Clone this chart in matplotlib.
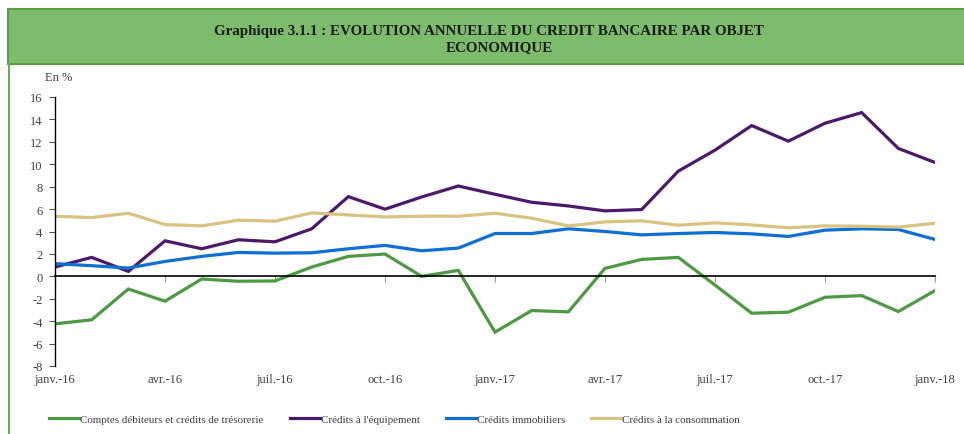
import matplotlib.pyplot as plt
from matplotlib.patches import Rectangle
from matplotlib.lines import Line2D

# monthly points, janv.-16 .. janv.-18
months = list(range(25))
tick_pos = [0, 3, 6, 9, 12, 15, 18, 21, 24]
tick_labels = ['janv.-16', 'avr.-16', 'juil.-16', 'oct.-16', 'janv.-17',
               'avr.-17', 'juil.-17', 'oct.-17', 'janv.-18']

comptes_debiteurs = [-4.24, -3.88, -1.13, -2.22, -0.24, -0.44, -0.41, 0.83, 1.78,
                     1.99, 0.0, 0.53, -4.98, -3.05, -3.17, 0.71, 1.51, 1.69,
                     -0.78, -3.29, -3.20, -1.87, -1.72, -3.14, -1.27]
credits_equipement = [0.83, 1.69, 0.44, 3.17, 2.46, 3.26, 3.08, 4.24, 7.11,
                      5.99, 7.08, 8.06, 7.32, 6.61, 6.28, 5.84, 5.96, 9.39,
                      11.26, 13.45, 12.06, 13.66, 14.61, 11.41, 10.16]
credits_immobiliers = [1.13, 0.95, 0.74, 1.33, 1.78, 2.13, 2.07, 2.10, 2.46,
                       2.76, 2.28, 2.52, 3.82, 3.82, 4.24, 4.00, 3.70, 3.82,
                       3.91, 3.79, 3.56, 4.12, 4.24, 4.18, 3.29]
credits_consommation = [5.36, 5.24, 5.63, 4.62, 4.50, 5.01, 4.92, 5.66, 5.48,
                        5.30, 5.36, 5.36, 5.63, 5.19, 4.50, 4.86, 4.95, 4.56,
                        4.77, 4.59, 4.33, 4.50, 4.47, 4.39, 4.74]

series = [
    ('Comptes débiteurs et crédits de trésorerie', comptes_debiteurs, '#4e9a44'),
    ("Crédits à l'équipement", credits_equipement, '#4a1b6a'),
    ('Crédits immobiliers', credits_immobiliers, '#0e6fd6'),
    ('Crédits à la consommation', credits_consommation, '#d8c380'),
]

plt.rcParams['font.family'] = ['Liberation Serif', 'DejaVu Serif']
plt.rcParams['axes.unicode_minus'] = False
W, H = 964, 435
fig = plt.figure(figsize=(W / 100, H / 100), dpi=100)

# green header band (runs off the right edge) + left frame line
fig.patches.append(Rectangle((8 / W, 1 - 65 / H), 1.1, 55 / H,
                             transform=fig.transFigure, facecolor='#7dbb6d',
                             edgecolor='#5a9e48', lw=1.5))
fig.lines.append(Line2D([8.5 / W, 8.5 / W], [0, 1 - 65 / H],
                        transform=fig.transFigure, color='#6aa85a', lw=1.5))
fig.text(489 / W, 1 - 31 / H,
         'Graphique 3.1.1 : EVOLUTION ANNUELLE DU CREDIT BANCAIRE PAR OBJET',
         ha='center', va='center', fontsize=10.8, fontweight='bold', color='#1a1a1a')
fig.text(499 / W, 1 - 48 / H, 'ECONOMIQUE',
         ha='center', va='center', fontsize=10.8, fontweight='bold', color='#1a1a1a')

ax = fig.add_axes([55 / W, 1 - 367 / H, 880 / W, 269 / H])
for label, vals, col in series:
    ax.plot(months, vals, color=col, lw=2.3, label=label, solid_joinstyle='miter')

ax.set_xlim(0, 24)
ax.set_ylim(-8, 16)
ax.spines['top'].set_visible(False)
ax.spines['right'].set_visible(False)
ax.spines['bottom'].set_position(('data', 0))
ax.spines['bottom'].set_linewidth(1.2)
ax.spines['left'].set_linewidth(1.0)

ax.set_xticks(tick_pos)
ax.set_xticklabels([])
ax.tick_params(axis='x', direction='out', length=4, color='#999999')
ax.set_yticks(range(-8, 17, 2))
ax.tick_params(axis='y', direction='out', length=4, color='#555555',
               labelsize=9, labelcolor='#404040', pad=5)

sec = ax.secondary_xaxis(0.0)
sec.set_xticks(tick_pos)
sec.set_xticklabels(tick_labels)
sec.tick_params(length=0, labelsize=9, labelcolor='#404040', pad=5)
sec.spines['bottom'].set_visible(False)

fig.text(45 / W, 1 - 78 / H, 'En %', ha='left', va='center', fontsize=9, color='#404040')

fig.legend(loc='center left', bbox_to_anchor=(44 / W, 1 - 420 / H), ncol=4,
           frameon=False, fontsize=7.9, handlelength=2.7, handletextpad=0.1,
           columnspacing=2.4, borderpad=0, labelcolor='#404040')

fig.savefig('out.png', dpi=100)
